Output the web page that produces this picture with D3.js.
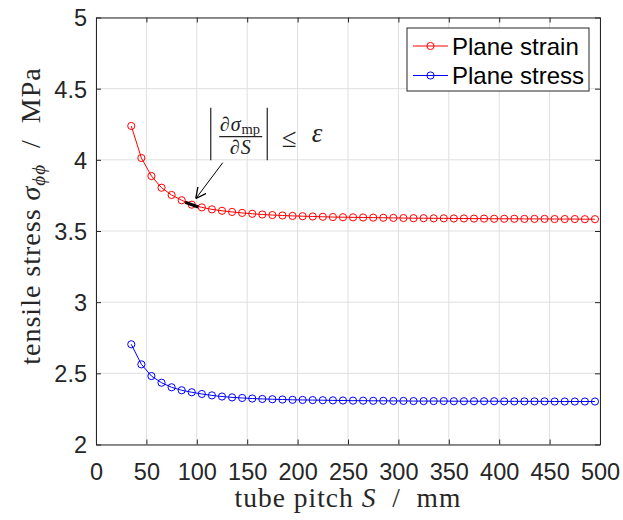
<!DOCTYPE html>
<html>
<head>
<meta charset="utf-8">
<script src="https://cdn.jsdelivr.net/npm/d3@7"></script>
<style>
body{margin:0;background:#fff;}
</style>
</head>
<body>
<div id="chart"></div>
<script>
// tube pitch S / mm
var pitch = [35,45,55,65,75,85,95,105,115,125,135,145,155,165,175,185,195,205,215,225,235,245,255,265,275,285,295,305,315,325,335,345,355,365,375,385,395,405,415,425,435,445,455,465,475,485,495];
// tensile stress / MPa
var planeStrain = [4.238,4.013,3.886,3.804,3.753,3.716,3.685,3.666,3.652,3.642,3.634,3.627,3.621,3.616,3.612,3.609,3.606,3.604,3.602,3.600,3.598,3.597,3.596,3.595,3.594,3.593,3.592,3.591,3.590,3.590,3.589,3.589,3.588,3.588,3.587,3.587,3.586,3.586,3.586,3.585,3.585,3.585,3.584,3.584,3.584,3.583,3.583];
var planeStress = [2.704,2.563,2.481,2.434,2.402,2.381,2.367,2.355,2.345,2.337,2.331,2.327,2.323,2.320,2.318,2.316,2.314,2.313,2.312,2.311,2.310,2.309,2.308,2.308,2.307,2.307,2.306,2.306,2.305,2.305,2.305,2.305,2.304,2.304,2.304,2.304,2.304,2.303,2.303,2.303,2.303,2.303,2.302,2.302,2.302,2.302,2.302];
var xTicks = [0,50,100,150,200,250,300,350,400,450,500];
var yTicks = [2,2.5,3,3.5,4,4.5,5];
var seriesNames = ['Plane strain','Plane stress'];
var seriesColors = ['#ff0000','#0000ff'];

var W = 623, H = 520;
var m = {left:96, right:23, top:17.5, bottom:75.5};
var axisCol = '#262626', gridCol = '#dfdfdf';
var sans = '"Liberation Sans", Arial, sans-serif';
var serif = '"Liberation Serif", "DejaVu Serif", serif';

var svg = d3.select('#chart').append('svg')
	.attr('width', W).attr('height', H)
	.style('display','block');

var x = d3.scaleLinear().domain([0,500]).range([m.left, W-m.right]);
var y = d3.scaleLinear().domain([2,5]).range([H-m.bottom, m.top]);

// grid
svg.append('g').selectAll('line').data(xTicks).enter().append('line')
	.attr('x1', d => x(d)).attr('x2', d => x(d))
	.attr('y1', y(2)).attr('y2', y(5))
	.attr('stroke', gridCol).attr('stroke-width', 1);
svg.append('g').selectAll('line').data(yTicks).enter().append('line')
	.attr('x1', x(0)).attr('x2', x(500))
	.attr('y1', d => y(d)).attr('y2', d => y(d))
	.attr('stroke', gridCol).attr('stroke-width', 1);

// axes (MATLAB style: inward ticks, box on)
var tk = 5;
var xb = svg.append('g').attr('transform','translate(0,'+y(2)+')')
	.call(d3.axisBottom(x).tickValues(xTicks).tickSizeInner(-tk).tickSizeOuter(0));
var xt = svg.append('g').attr('transform','translate(0,'+y(5)+')')
	.call(d3.axisTop(x).tickValues(xTicks).tickSizeInner(-tk).tickSizeOuter(0).tickFormat(''));
var yl = svg.append('g').attr('transform','translate('+x(0)+',0)')
	.call(d3.axisLeft(y).tickValues(yTicks).tickSizeInner(-tk).tickSizeOuter(0).tickPadding(9).tickFormat(d3.format('~g')));
var yr = svg.append('g').attr('transform','translate('+x(500)+',0)')
	.call(d3.axisRight(y).tickValues(yTicks).tickSizeInner(-tk).tickSizeOuter(0).tickFormat(''));
[xb,xt,yl,yr].forEach(function(g){
	g.select('.domain').attr('stroke', axisCol).attr('stroke-width', 1);
	g.selectAll('.tick line').attr('stroke', axisCol);
	g.selectAll('.tick text').attr('fill', axisCol).style('font-family', sans).style('font-size','23.5px');
});
xb.selectAll('.tick text').attr('y', 35).attr('dy', 0);
yl.selectAll('.tick text').attr('dy', '0.36em');

// series
var allSeries = [planeStrain, planeStress];
allSeries.forEach(function(vals, i){
	var pts = pitch.map(function(p, k){ return [p, vals[k]]; });
	var g = svg.append('g');
	g.append('path').datum(pts)
		.attr('fill','none').attr('stroke', seriesColors[i]).attr('stroke-width', 1)
		.attr('d', d3.line().x(d => x(d[0])).y(d => y(d[1])));
	g.selectAll('circle').data(pts).enter().append('circle')
		.attr('cx', d => x(d[0])).attr('cy', d => y(d[1])).attr('r', 3.6)
		.attr('fill','none').attr('stroke', seriesColors[i]).attr('stroke-width', 1);
});

// annotation: tangent at S = 95 on plane strain curve
var ai = pitch.indexOf(95);
var slope = (planeStrain[ai+1]-planeStrain[ai-1])/(pitch[ai+1]-pitch[ai-1]);
var half = 6.5;
svg.append('line')
	.attr('x1', x(pitch[ai]-half)).attr('y1', y(planeStrain[ai]-slope*half))
	.attr('x2', x(pitch[ai]+half)).attr('y2', y(planeStrain[ai]+slope*half))
	.attr('stroke','#000').attr('stroke-width', 3.2);

var ax = x(pitch[ai]), ay = y(planeStrain[ai]);
var tip = [ax+4, ay-6], tail = [ax+31, ay-42];
svg.append('defs').append('marker').attr('id','ah')
	.attr('viewBox','0 0 10 10').attr('refX',10).attr('refY',5)
	.attr('markerWidth',11).attr('markerHeight',11).attr('markerUnits','userSpaceOnUse')
	.attr('orient','auto')
	.append('path').attr('d','M0,0 L10,5 L0,10').attr('fill','none').attr('stroke','#000').attr('stroke-width',1.2);
svg.append('line')
	.attr('x1', tail[0]).attr('y1', tail[1]).attr('x2', tip[0]).attr('y2', tip[1])
	.attr('stroke','#000').attr('stroke-width', 1)
	.attr('marker-end','url(#ah)');

// formula |d sigma_mp / dS| <= eps
var fx = tail[0]-12, fy = tail[1]-26; // left bar x, fraction bar y
var ink = '#222';
var fg = svg.append('g').attr('fill', ink).style('font-family', serif);
fg.append('line').attr('x1',fx).attr('x2',fx).attr('y1',fy-29).attr('y2',fy+23.5).attr('stroke',ink).attr('stroke-width',1.2);
fg.append('line').attr('x1',fx+56.5).attr('x2',fx+56.5).attr('y1',fy-29).attr('y2',fy+23.5).attr('stroke',ink).attr('stroke-width',1.2);
fg.append('line').attr('x1',fx+8.5).attr('x2',fx+51.5).attr('y1',fy).attr('y2',fy).attr('stroke',ink).attr('stroke-width',1.4);
var num = fg.append('text').attr('x',fx+9).attr('y',fy-6).style('font-size','20px');
num.append('tspan').style('font-style','italic').attr('letter-spacing','1px').text('∂σ');
num.append('tspan').attr('dy',3).style('font-size','14.5px').text('mp');
fg.append('text').attr('x',fx+30).attr('y',fy+17.5).attr('text-anchor','middle')
	.style('font-size','20px').style('font-style','italic').attr('letter-spacing','1px').text('∂S');
fg.append('text').attr('x',fx+71).attr('y',fy+10).style('font-size','27px').text('≤');
fg.append('text').attr('x',fx+101).attr('y',fy+5.5).style('font-size','27px').style('font-style','italic').text('ε');

// axis labels
var xlab = svg.append('text').attr('x', (x(0)+x(500))/2).attr('y', 507)
	.attr('text-anchor','middle').attr('fill','#262626')
	.attr('letter-spacing','1px').attr('xml:space','preserve')
	.style('font-family', serif).style('font-size','27.5px');
xlab.append('tspan').text('tube pitch ');
xlab.append('tspan').style('font-style','italic').text('S');
xlab.append('tspan').text('  /  mm');

var ylab = svg.append('text')
	.attr('transform','translate(40,216) rotate(-90)')
	.attr('text-anchor','middle').attr('fill','#262626')
	.attr('letter-spacing','1px').attr('xml:space','preserve')
	.style('font-family', serif).style('font-size','28px');
ylab.append('tspan').text('tensile stress ');
ylab.append('tspan').style('font-style','italic').text('σ');
ylab.append('tspan').attr('dy',5).style('font-style','italic').style('font-size','19px').text('ϕϕ');
ylab.append('tspan').attr('dy',-5).text('  /  MPa');

// legend
var lg = svg.append('g');
lg.append('rect').attr('x',407).attr('y',28).attr('width',182).attr('height',63)
	.attr('fill','#fff').attr('stroke',axisCol).attr('stroke-width',1);
seriesNames.forEach(function(n, i){
	var ly = 46 + i*29.5;
	lg.append('line').attr('x1',413).attr('x2',448).attr('y1',ly).attr('y2',ly)
		.attr('stroke',seriesColors[i]).attr('stroke-width',1);
	lg.append('circle').attr('cx',430.5).attr('cy',ly).attr('r',3.6)
		.attr('fill','none').attr('stroke',seriesColors[i]);
	lg.append('text').attr('x',452).attr('y',ly).attr('dy','0.36em')
		.attr('fill','#000').style('font-family',sans).style('font-size','24px').text(n);
});
</script>
</body>
</html>
